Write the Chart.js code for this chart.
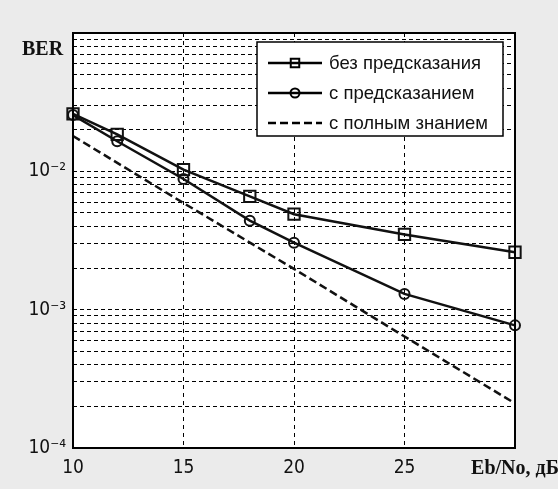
<!DOCTYPE html>
<html>
<head>
<meta charset="utf-8">
<script src="https://cdn.jsdelivr.net/npm/chart.js@4.4.1/dist/chart.umd.min.js"></script>
<style>
  html, body { margin: 0; padding: 0; background: #ebebeb; }
  canvas { display: block; }
</style>
</head>
<body>
<canvas id="ber" width="558" height="489"></canvas>
<script>
// Eb/No in dB, where the markers sit
const snr = [10, 12, 15, 18, 20, 25, 30];
// the dashed curve has no markers, read at the grid columns
const snrFull = [10, 15, 20, 25, 30];

// BER values
const berNoPred = [2.6e-2, 1.85e-2, 1.03e-2, 6.6e-3, 4.9e-3, 3.5e-3, 2.6e-3];
const berPred   = [2.55e-2, 1.65e-2, 8.8e-3, 4.4e-3, 3.05e-3, 1.3e-3, 7.7e-4];
const berFull   = [1.8e-2, 5.9e-3, 1.97e-3, 6.4e-4, 2.1e-4];

const seriesNames = ["без предсказания", "с предсказанием", "с полным знанием"];

// axes
const xTicks = [10, 15, 20, 25, 30];
const xLastLabel = "Eb/No, дБ";
const decades = [-4, -3, -2, -1];
const mantissas = [1, 2, 3, 4, 5, 6, 7, 8, 9];
const yLabels = { "-4": "10⁻⁴", "-3": "10⁻³", "-2": "10⁻²" };
const yName = "BER";

const tickFont = "'Liberation Sans Narrow', 'DejaVu Sans Condensed', sans-serif";
const serifFont = "'Liberation Serif', 'DejaVu Serif', serif";

function pts(xs, ys) {
  return xs.map(function (x, i) { return { x: x, y: ys[i] }; });
}

// every log grid line 1..9 x 10^n, plus the top 10^-1
let yTickValues = [];
decades.forEach(function (d) {
  if (d === -1) { yTickValues.push(Math.pow(10, d)); return; }
  mantissas.forEach(function (m) { yTickValues.push(m * Math.pow(10, d)); });
});

// white plot area, frame, legend inside the plot and the BER label
const decor = {
  id: "decor",
  beforeDraw(chart) {
    const { ctx, chartArea: a } = chart;
    ctx.save();
    ctx.fillStyle = "#fff";
    ctx.fillRect(a.left, a.top, a.width, a.height);
    ctx.restore();
  },
  afterDatasetsDraw(chart) {
    const { ctx, chartArea: a } = chart;
    ctx.save();
    ctx.strokeStyle = "#000";
    ctx.lineWidth = 2;
    ctx.setLineDash([]);
    ctx.strokeRect(a.left, a.top, a.width, a.height);

    // legend box
    const bx = a.left + 184, by = a.top + 9, bw = 246, bh = 94;
    ctx.fillStyle = "#fff";
    ctx.fillRect(bx, by, bw, bh);
    ctx.lineWidth = 1.5;
    ctx.strokeRect(bx, by, bw, bh);

    chart.data.datasets.forEach(function (ds, i) {
      const y = by + 21 + i * 30;
      ctx.save();
      ctx.strokeStyle = "#000";
      ctx.lineWidth = ds.borderWidth;
      ctx.setLineDash(ds.borderDash || []);
      ctx.beginPath();
      ctx.moveTo(bx + 11, y);
      ctx.lineTo(bx + 65, y);
      ctx.stroke();
      ctx.setLineDash([]);
      if (ds.pointRadius > 0) {
        ctx.fillStyle = "rgba(0,0,0,0)";
        ctx.lineWidth = 2;
        Chart.helpers.drawPoint(ctx, {
          pointStyle: ds.pointStyle,
          radius: ds.pointStyle === "rect" ? 6 : 4.5,
          borderWidth: 2,
          rotation: 0
        }, bx + 38, y);
      }
      ctx.restore();
      ctx.fillStyle = "#111";
      ctx.font = "18.5px 'Liberation Sans', Arial, sans-serif";
      ctx.textBaseline = "middle";
      ctx.textAlign = "left";
      ctx.fillText(ds.label, bx + 72, y + 1);
    });
    ctx.restore();
  },
  afterDraw(chart) {
    const { ctx } = chart;
    ctx.save();
    ctx.fillStyle = "#111";
    ctx.font = "bold 20px " + serifFont;
    ctx.textBaseline = "middle";
    ctx.textAlign = "left";
    ctx.fillText(yName, 22, 50);
    ctx.restore();
  }
};

new Chart(document.getElementById("ber"), {
  type: "line",
  data: {
    datasets: [
      {
        label: seriesNames[0],
        data: pts(snr, berNoPred),
        borderColor: "#111",
        borderWidth: 2.5,
        pointStyle: "rect",
        pointRadius: 8,
        pointBorderWidth: 2,
        pointBackgroundColor: "rgba(0,0,0,0)",
        pointBorderColor: "#111",
        clip: false
      },
      {
        label: seriesNames[1],
        data: pts(snr, berPred),
        borderColor: "#111",
        borderWidth: 2.5,
        pointStyle: "circle",
        pointRadius: 5,
        pointBorderWidth: 2,
        pointBackgroundColor: "rgba(0,0,0,0)",
        pointBorderColor: "#111",
        clip: false
      },
      {
        label: seriesNames[2],
        data: pts(snrFull, berFull),
        borderColor: "#111",
        borderWidth: 2.5,
        borderDash: [8, 4],
        pointRadius: 0,
        clip: false
      }
    ]
  },
  options: {
    responsive: false,
    animation: false,
    layout: { padding: { top: 33, right: 43, left: 0, bottom: 0 } },
    plugins: {
      legend: { display: false },
      tooltip: { enabled: false }
    },
    scales: {
      x: {
        type: "linear",
        min: 10,
        max: 30,
        afterBuildTicks: function (s) { s.ticks = xTicks.map(function (v) { return { value: v }; }); },
        afterFit: function (s) {
          s.height = 41;
          // the last label runs off the edge in the original too
          s.paddingRight = 0;
          s.paddingLeft = 0;
        },
        grid: { color: "#000", lineWidth: 1, drawTicks: false },
        border: { display: false, dash: [4, 4] },
        ticks: {
          padding: 9,
          color: "#111",
          maxRotation: 0,
          font: function (c) {
            if (c.tick && c.tick.value === 30) return { family: serifFont, size: 20, weight: "bold" };
            return { family: tickFont, size: 19 };
          },
          callback: function (v) { return v === 30 ? xLastLabel : String(v); }
        }
      },
      y: {
        type: "logarithmic",
        min: 1e-4,
        max: 1e-1,
        afterBuildTicks: function (s) { s.ticks = yTickValues.map(function (v) { return { value: v }; }); },
        afterFit: function (s) { s.width = 73; },
        grid: { color: "#000", lineWidth: 1, drawTicks: false },
        border: { display: false, dash: [4, 3] },
        ticks: {
          padding: 7,
          color: "#111",
          autoSkip: false,
          font: { family: tickFont, size: 19 },
          callback: function (v) {
            const e = Math.round(Math.log10(v));
            if (Math.abs(v / Math.pow(10, e) - 1) > 1e-6) return "";
            return yLabels[String(e)] || "";
          }
        }
      }
    }
  },
  plugins: [decor]
});
</script>
</body>
</html>
